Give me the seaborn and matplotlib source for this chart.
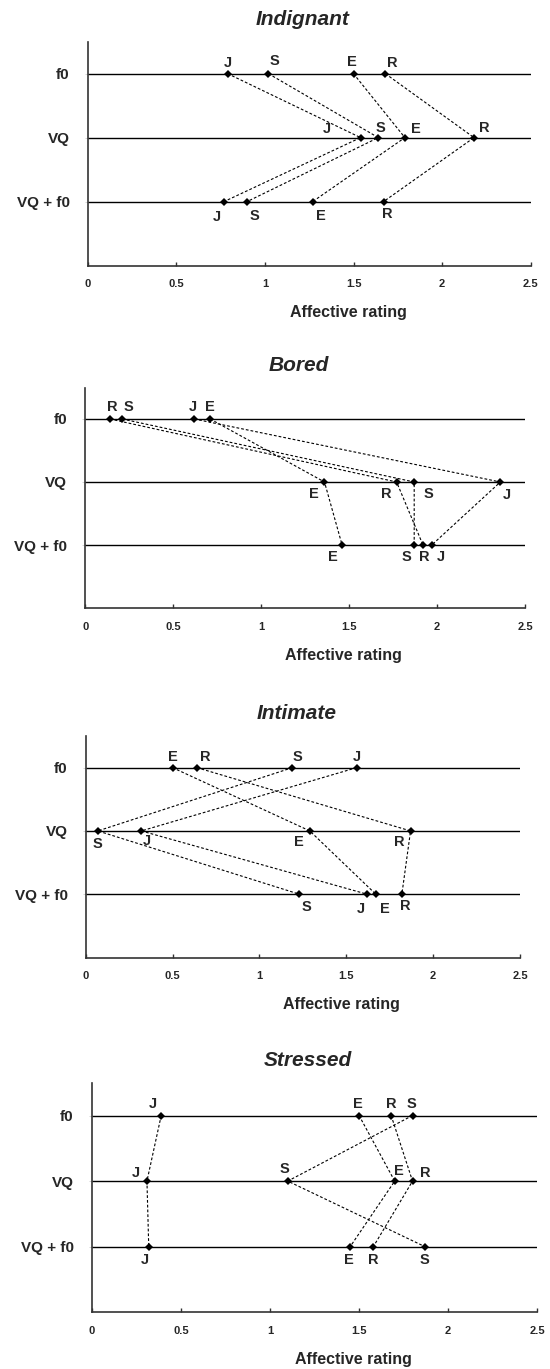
import matplotlib
matplotlib.use("Agg")
import matplotlib.pyplot as plt
import pandas as pd
import seaborn as sns

# speakers and conditions
speakers = ["J", "S", "E", "R"]
conditions = ["f0", "VQ", "VQ + f0"]
levels = [3, 2, 1]
emotions = ["Indignant", "Bored", "Intimate", "Stressed"]
xticks = [0, 0.5, 1, 1.5, 2, 2.5]
xticklabels = ["0", "0.5", "1", "1.5", "2", "2.5"]

# affective ratings, speakers in order J, S, E, R
indignant_f0 = [0.79, 1.02, 1.50, 1.68]
indignant_vq = [1.54, 1.64, 1.79, 2.18]
indignant_vqf0 = [0.77, 0.90, 1.27, 1.67]

bored_f0 = [0.62, 0.21, 0.71, 0.14]
bored_vq = [2.36, 1.87, 1.36, 1.77]
bored_vqf0 = [1.97, 1.87, 1.46, 1.92]

intimate_f0 = [1.56, 1.19, 0.50, 0.64]
intimate_vq = [0.32, 0.07, 1.29, 1.87]
intimate_vqf0 = [1.62, 1.23, 1.67, 1.82]

stressed_f0 = [0.39, 1.80, 1.50, 1.68]
stressed_vq = [0.31, 1.10, 1.70, 1.80]
stressed_vqf0 = [0.32, 1.87, 1.45, 1.58]

# label offsets in pixels (dx, dy), same order
indignant_off = [[(0, 11), (6, 13), (-2, 12), (7, 11)],
                 [(-34, 9), (2, 10), (11, 9), (10, 10)],
                 [(-7, -15), (7, -14), (8, -14), (4, -12)]]
bored_off = [[(-1, 12), (6, 12), (0, 12), (2, 12)],
             [(6, -13), (14, -12), (-11, -12), (-10, -12)],
             [(9, -12), (-8, -12), (-9, -12), (1, -12)]]
intimate_off = [[(0, 11), (5, 11), (0, 11), (8, 11)],
                [(6, -10), (0, -13), (-11, -11), (-11, -11)],
                [(-6, -15), (7, -13), (9, -15), (3, -12)]]
stressed_off = [[(-8, 12), (-1, 12), (-1, 12), (0, 12)],
                [(-11, 8), (-3, 12), (4, 10), (13, 8)],
                [(-4, -13), (-1, -13), (-1, -13), (0, -13)]]

# axes boxes in pixels: left, top, right, bottom
boxes = [(87.7, 41.7, 530.7, 265.5),
         (85.3, 387.5, 525.0, 608.0),
         (85.7, 736.0, 520.0, 957.5),
         (91.7, 1082.7, 537.3, 1312.3)]

panels = [
    (indignant_f0, indignant_vq, indignant_vqf0, indignant_off),
    (bored_f0, bored_vq, bored_vqf0, bored_off),
    (intimate_f0, intimate_vq, intimate_vqf0, intimate_off),
    (stressed_f0, stressed_vq, stressed_vqf0, stressed_off),
]


def build(f0, vq, vqf0):
    rows = []
    for cond, lev, vals in zip(conditions, levels, [f0, vq, vqf0]):
        for spk, v in zip(speakers, vals):
            rows.append({"speaker": spk, "condition": cond, "level": lev, "rating": v})
    return pd.DataFrame(rows)


sns.set_theme(style="white")
plt.rcParams["font.family"] = ["Liberation Sans", "DejaVu Sans"]
plt.rcParams["font.weight"] = "bold"

W, H = 550, 1369
fig = plt.figure(figsize=(W / 100, H / 100), dpi=100)

for name, (f0, vq, vqf0, offs), (l, t, r, b) in zip(emotions, panels, boxes):
    ax = fig.add_axes([l / W, 1 - b / H, (r - l) / W, (b - t) / H])
    df = build(f0, vq, vqf0)
    sns.lineplot(data=df, x="rating", y="level", units="speaker", estimator=None,
                 sort=False, color="black", lw=0.8, linestyle=(0, (2.5, 1.8)),
                 marker="D", markersize=3.8, markeredgewidth=0, ax=ax)
    for row_vals, row_off, lev in zip([f0, vq, vqf0], offs, levels):
        for spk, v, (dx, dy) in zip(speakers, row_vals, row_off):
            ax.annotate(spk, xy=(v, lev), xytext=(dx, dy), textcoords="offset pixels",
                        ha="center", va="center", fontsize=10.5, fontweight="bold")
    ax.set_xlim(0, 2.5)
    ax.set_ylim(0, 3.5)
    ax.set_yticks(levels)
    ax.set_yticklabels(conditions, fontsize=11, fontweight="bold")
    ax.set_xticks(xticks)
    ax.set_xticklabels(xticklabels, fontsize=8, fontweight="bold")
    ax.yaxis.grid(True, color="black", lw=1)
    ax.set_axisbelow(True)
    ax.tick_params(axis="x", direction="in", length=3, width=1, color="#333333", pad=10, bottom=True)
    ax.tick_params(axis="y", direction="out", length=2, width=0.6, color="#cccccc", pad=11, left=True)
    for side in ["top", "right"]:
        ax.spines[side].set_visible(False)
    for side in ["left", "bottom"]:
        ax.spines[side].set_color("#333333")
        ax.spines[side].set_linewidth(1.2)
    ax.set_ylabel("")
    ax.set_xlabel("Affective rating", fontsize=11.5, fontweight="bold")
    ax.xaxis.set_label_coords(0.588, -47 / (b - t))
    ax.xaxis.label.set_va("center")
    ax.set_title(name, x=0.485, fontsize=15, fontweight="bold", fontstyle="italic", pad=12)

fig.savefig("out.png", dpi=100)
